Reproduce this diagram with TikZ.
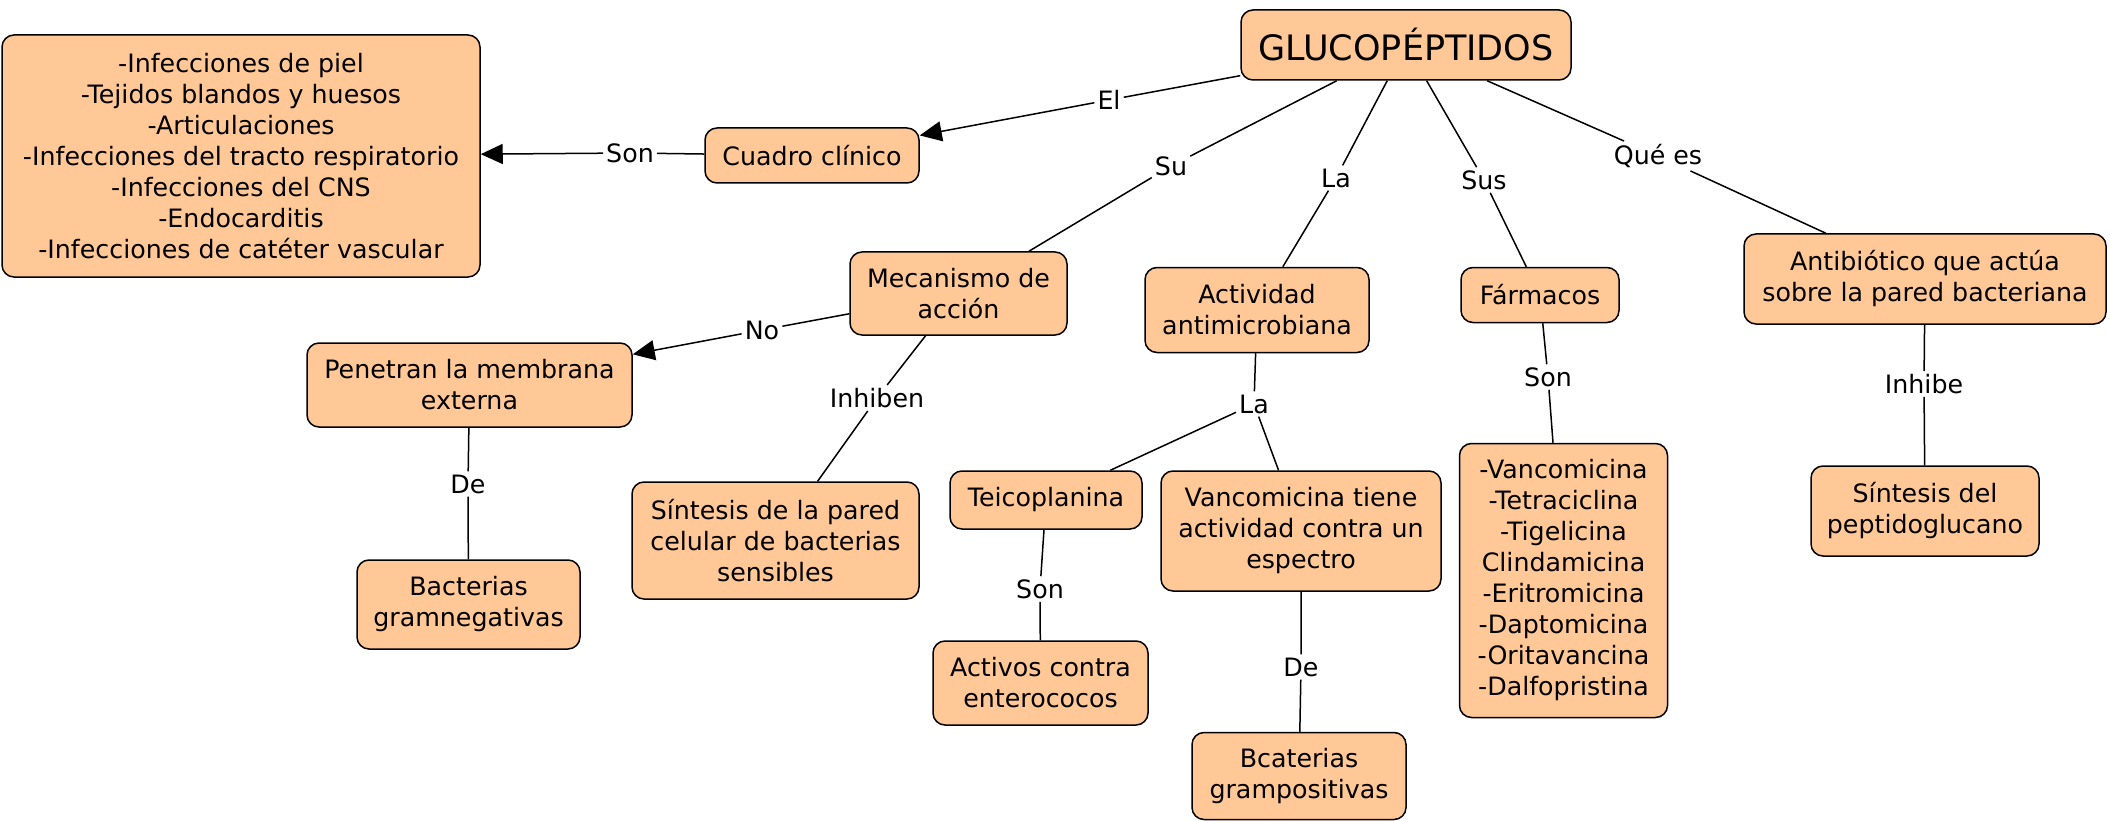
\documentclass[tikz,border=0pt]{standalone}
\usepackage{fontspec}
\setmainfont{DejaVu Sans}
\usetikzlibrary{arrows.meta}
\definecolor{boxfill}{RGB}{255,200,150}
\begin{document}
\begin{tikzpicture}[x=1pt,y=-1pt,
  box/.style={draw=black, line width=1.5pt, fill=boxfill, rounded corners=12pt, align=center, font=\fontsize{25.3}{31}\selectfont, inner sep=0pt},
  lbl/.style={fill=white, inner sep=3pt, font=\fontsize{25.3}{30}\selectfont},
  conn/.style={line width=1.5pt},
  arr/.style={conn, -{Triangle[length=22pt,width=20pt]}}]
\useasboundingbox (0,0) rectangle (2110,821);
% nodes
\node[box, minimum width=330pt, minimum height=70pt, font=\fontsize{35}{40}\selectfont] (g) at (1406,45) {GLUCOPÉPTIDOS};
\node[box, minimum width=478pt, minimum height=242pt] (clin) at (241,156) {-Infecciones de piel\\-Tejidos blandos y huesos\\-Articulaciones\\-Infecciones del tracto respiratorio\\-Infecciones del CNS\\-Endocarditis\\-Infecciones de catéter vascular};
\node[box, minimum width=214pt, minimum height=55pt] (cc) at (812,155.5) {Cuadro clínico};
\node[box, minimum width=217pt, minimum height=83pt] (mec) at (958.5,293.5) {Mecanismo de\\acción};
\node[box, minimum width=224pt, minimum height=85pt] (act) at (1257,310) {Actividad\\antimicrobiana};
\node[box, minimum width=158pt, minimum height=55pt] (far) at (1540,295) {Fármacos};
\node[box, minimum width=362pt, minimum height=90pt] (anti) at (1925,279) {Antibiótico que actúa\\sobre la pared bacteriana};
\node[box, minimum width=325pt, minimum height=84pt] (pen) at (469.5,385) {Penetran la membrana\\externa};
\node[box, minimum width=287pt, minimum height=117pt] (sin) at (775.5,540.5) {Síntesis de la pared\\celular de bacterias\\sensibles};
\node[box, minimum width=223pt, minimum height=89pt] (gneg) at (468.5,604.5) {Bacterias\\gramnegativas};
\node[box, minimum width=192pt, minimum height=58pt] (tei) at (1046,500) {Teicoplanina};
\node[box, minimum width=280pt, minimum height=120pt] (van) at (1301,531) {Vancomicina tiene\\actividad contra un\\espectro};
\node[box, minimum width=215pt, minimum height=84pt] (ent) at (1040.5,683) {Activos contra\\enterococos};
\node[box, minimum width=214pt, minimum height=87pt] (gpos) at (1299,776) {Bcaterias\\grampositivas};
\node[box, minimum width=208pt, minimum height=274pt] (list) at (1563.5,580.5) {-Vancomicina\\-Tetraciclina\\-Tigelicina\\Clindamicina\\-Eritromicina\\-Daptomicina\\-Oritavancina\\-Dalfopristina};
\node[box, minimum width=228pt, minimum height=90pt] (pep) at (1925,511) {Síntesis del\\peptidoglucano};
% labels
\node[lbl] (lEl) at (1109,100) {El};
\node[lbl] (lSon1) at (630,153) {Son};
\node[lbl] (lSu) at (1171,166) {Su};
\node[lbl] (lLa1) at (1336,178) {La};
\node[lbl] (lSus) at (1484,180) {Sus};
\node[lbl] (lQue) at (1658,156) {Qué es};
\node[lbl] (lNo) at (762,330) {No};
\node[lbl] (lInh) at (877,398) {Inhiben};
\node[lbl] (lDe1) at (468,484) {De};
\node[lbl] (lLa2) at (1254,404) {La};
\node[lbl] (lSon2) at (1040,589) {Son};
\node[lbl] (lDe2) at (1301,667) {De};
\node[lbl] (lSon3) at (1548,377) {Son};
\node[lbl] (lInhibe) at (1924,384) {Inhibe};
% connectors
\draw[conn] (g) -- (lEl);
\draw[arr] (lEl) -- (cc);
\draw[conn] (cc) -- (lSon1);
\draw[arr] (lSon1) -- (clin);
\draw[conn] (g) -- (lSu) -- (mec);
\draw[conn] (g) -- (lLa1) -- (act);
\draw[conn] (g) -- (lSus) -- (far);
\draw[conn] (g) -- (lQue) -- (anti);
\draw[conn] (mec) -- (lNo);
\draw[arr] (lNo) -- (pen);
\draw[conn] (mec) -- (lInh) -- (sin);
\draw[conn] (pen) -- (lDe1) -- (gneg);
\draw[conn] (act) -- (lLa2);
\draw[conn] (lLa2) -- (tei);
\draw[conn] (lLa2) -- (van);
\draw[conn] (tei) -- (lSon2) -- (ent);
\draw[conn] (van) -- (lDe2) -- (gpos);
\draw[conn] (far) -- (lSon3) -- (list);
\draw[conn] (anti) -- (lInhibe) -- (pep);
\end{tikzpicture}
\end{document}
